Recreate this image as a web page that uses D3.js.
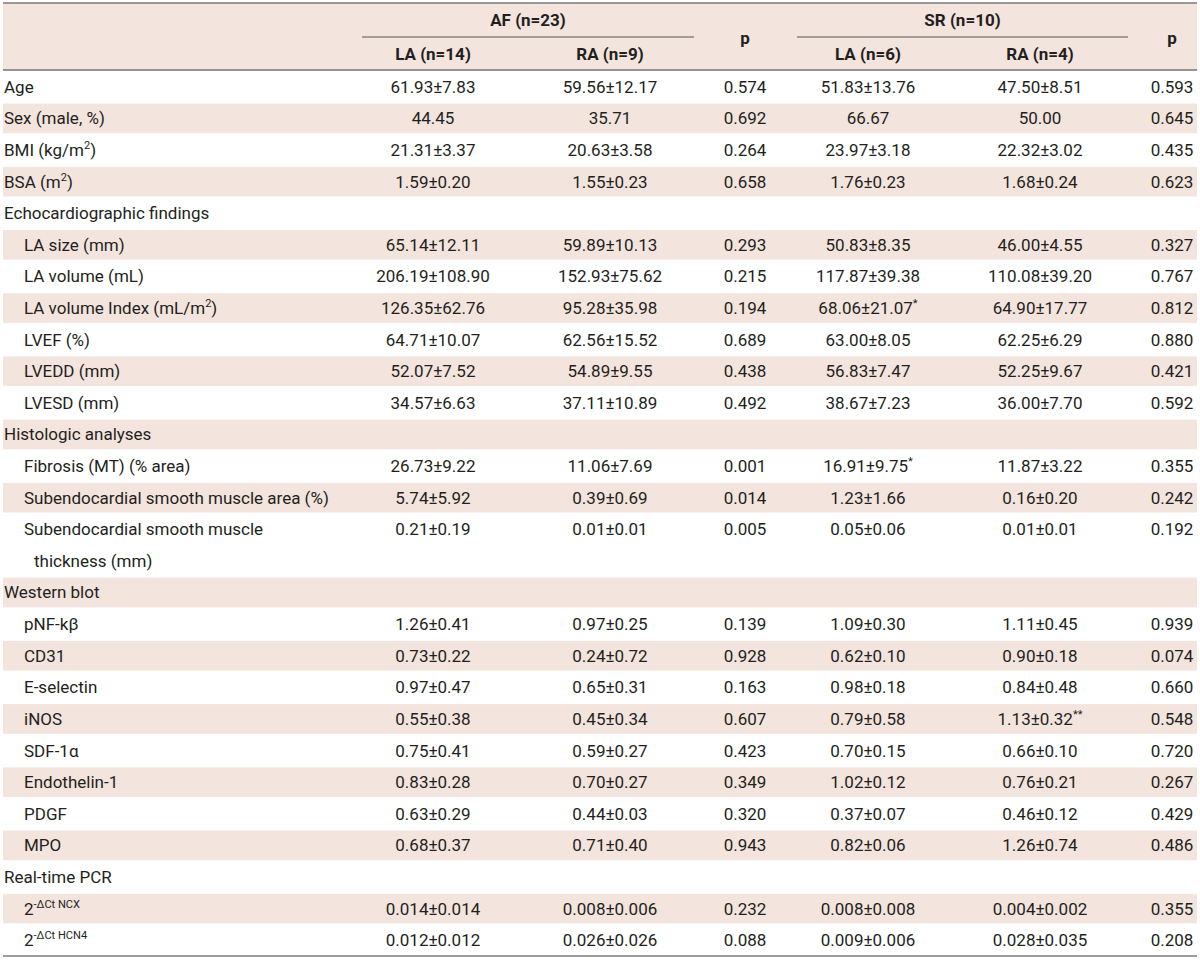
<!DOCTYPE html>
<html>
<head>
<meta charset="utf-8">
<script src="https://cdn.jsdelivr.net/npm/d3@7"></script>
<style>
  body { margin: 0; background: #fff; }
  svg text { font-family: "Roboto", "Noto Sans", sans-serif; fill: #231f20; }
</style>
</head>
<body>
<div id="table"></div>
<script>
// table content, <x> marks a superscript
var rowLabels = ["Age", "Sex (male, %)", "BMI (kg/m<2>)", "BSA (m<2>)", "Echocardiographic findings",
  "LA size (mm)", "LA volume (mL)", "LA volume Index (mL/m<2>)", "LVEF (%)", "LVEDD (mm)", "LVESD (mm)",
  "Histologic analyses", "Fibrosis (MT) (% area)", "Subendocardial smooth muscle area (%)",
  "Subendocardial smooth muscle|thickness (mm)", "Western blot", "pNF-kβ", "CD31", "E-selectin", "iNOS",
  "SDF-1α", "Endothelin-1", "PDGF", "MPO", "Real-time PCR", "2<-ΔCt NCX>", "2<-ΔCt HCN4>"];
var rowIndent = [0,0,0,0,0, 1,1,1,1,1,1, 0,1,1,1, 0,1,1,1,1,1,1,1,1, 0,1,1];
var rowSpan = [1,1,1,1,1, 1,1,1,1,1,1, 1,1,1,2, 1,1,1,1,1,1,1,1,1, 1,1,1];

var afLA = ["61.93±7.83", "44.45", "21.31±3.37", "1.59±0.20", "", "65.14±12.11", "206.19±108.90", "126.35±62.76",
  "64.71±10.07", "52.07±7.52", "34.57±6.63", "", "26.73±9.22", "5.74±5.92", "0.21±0.19", "", "1.26±0.41",
  "0.73±0.22", "0.97±0.47", "0.55±0.38", "0.75±0.41", "0.83±0.28", "0.63±0.29", "0.68±0.37", "",
  "0.014±0.014", "0.012±0.012"];
var afRA = ["59.56±12.17", "35.71", "20.63±3.58", "1.55±0.23", "", "59.89±10.13", "152.93±75.62", "95.28±35.98",
  "62.56±15.52", "54.89±9.55", "37.11±10.89", "", "11.06±7.69", "0.39±0.69", "0.01±0.01", "", "0.97±0.25",
  "0.24±0.72", "0.65±0.31", "0.45±0.34", "0.59±0.27", "0.70±0.27", "0.44±0.03", "0.71±0.40", "",
  "0.008±0.006", "0.026±0.026"];
var afP = ["0.574", "0.692", "0.264", "0.658", "", "0.293", "0.215", "0.194", "0.689", "0.438", "0.492", "",
  "0.001", "0.014", "0.005", "", "0.139", "0.928", "0.163", "0.607", "0.423", "0.349", "0.320", "0.943", "",
  "0.232", "0.088"];
var srLA = ["51.83±13.76", "66.67", "23.97±3.18", "1.76±0.23", "", "50.83±8.35", "117.87±39.38", "68.06±21.07<*>",
  "63.00±8.05", "56.83±7.47", "38.67±7.23", "", "16.91±9.75<*>", "1.23±1.66", "0.05±0.06", "", "1.09±0.30",
  "0.62±0.10", "0.98±0.18", "0.79±0.58", "0.70±0.15", "1.02±0.12", "0.37±0.07", "0.82±0.06", "",
  "0.008±0.008", "0.009±0.006"];
var srRA = ["47.50±8.51", "50.00", "22.32±3.02", "1.68±0.24", "", "46.00±4.55", "110.08±39.20", "64.90±17.77",
  "62.25±6.29", "52.25±9.67", "36.00±7.70", "", "11.87±3.22", "0.16±0.20", "0.01±0.01", "", "1.11±0.45",
  "0.90±0.18", "0.84±0.48", "1.13±0.32<**>", "0.66±0.10", "0.76±0.21", "0.46±0.12", "1.26±0.74", "",
  "0.004±0.002", "0.028±0.035"];
var srP = ["0.593", "0.645", "0.435", "0.623", "", "0.327", "0.767", "0.812", "0.880", "0.421", "0.592", "",
  "0.355", "0.242", "0.192", "", "0.939", "0.074", "0.660", "0.548", "0.720", "0.267", "0.429", "0.486", "",
  "0.355", "0.208"];

var groups = ["AF (n=23)", "SR (n=10)"];
var subHeads = ["LA (n=14)", "RA (n=9)", "p", "LA (n=6)", "RA (n=4)", "p"];
var valueCols = ["afLA", "afRA", "afP", "srLA", "srRA", "srP"];
var columns = [afLA, afRA, afP, srLA, srRA, srP];

var svgWidth = 1200;
var svgHeight = 962;

var svg = d3.select("#table")
  .append("svg")
  .attr("width", svgWidth)
  .attr("height", svgHeight);

var shade = "#f3e4de";
var left = 3, right = 1197;
var headTop = 3, headBottom = 71, tableBottom = 956;

// column centres
var xCol = d3.scaleOrdinal()
  .domain(valueCols)
  .range([433, 610, 745, 868, 1040, 1172]);

// rows stack by units
var starts = [];
var acc = 0;
rowSpan.forEach(function(s) { starts.push(acc); acc += s; });
var yRow = d3.scaleLinear()
  .domain([0, acc])
  .range([headBottom, tableBottom]);
var unit = yRow(1) - yRow(0);

// write a string with <...> superscripts into a text node
function richText(sel, str, size) {
  var parts = str.split(/(<[^>]*>)/).filter(function(p) { return p.length; });
  var shift = 0;
  parts.forEach(function(p) {
    if (p[0] === "<") {
      sel.append("tspan")
        .attr("dy", -size * 0.4)
        .style("font-size", (size * 0.65) + "px")
        .text(p.slice(1, -1));
      shift = size * 0.4;
    } else {
      sel.append("tspan").attr("dy", shift || null).text(p);
      shift = 0;
    }
  });
}

// header band
svg.append("rect")
  .attr("x", left).attr("y", headTop)
  .attr("width", right - left).attr("height", headBottom - headTop)
  .attr("fill", shade);

// row bands (every other row)
var bandRows = d3.range(rowLabels.length).filter(function(i) { return i % 2 === 1; });
svg.selectAll(".band")
  .data(bandRows)
  .enter()
  .append("rect")
  .attr("class", "band")
  .attr("x", left)
  .attr("y", function(i) { return yRow(starts[i]) + 1; })
  .attr("width", right - left)
  .attr("height", function(i) { return yRow(starts[i] + rowSpan[i]) - yRow(starts[i]) - 2; })
  .attr("fill", shade);

// rules
[headTop, headBottom - 1, tableBottom].forEach(function(y) {
  svg.append("line").attr("x1", left).attr("x2", right).attr("y1", y).attr("y2", y)
    .attr("stroke", "#7a7a7a").attr("stroke-width", 1.5);
});

// group headers
var groupSpan = [[362, 694], [797, 1128]];
groups.forEach(function(g, i) {
  svg.append("text")
    .attr("x", (groupSpan[i][0] + groupSpan[i][1]) / 2)
    .attr("y", 20)
    .attr("dy", "0.35em")
    .attr("text-anchor", "middle")
    .style("font-size", "17px")
    .style("font-weight", "bold")
    .text(g);
  svg.append("line")
    .attr("x1", groupSpan[i][0]).attr("x2", groupSpan[i][1])
    .attr("y1", 37).attr("y2", 37)
    .attr("stroke", "#555").attr("stroke-width", 1);
});

subHeads.forEach(function(h, i) {
  svg.append("text")
    .attr("x", xCol(valueCols[i]))
    .attr("y", h === "p" ? 38 : 54)
    .attr("dy", "0.35em")
    .attr("text-anchor", "middle")
    .style("font-size", "17px")
    .style("font-weight", "bold")
    .text(h);
});

// labels
rowLabels.forEach(function(lab, i) {
  var yc = yRow(starts[i]) + unit / 2;
  lab.split("|").forEach(function(line, k) {
    var t = svg.append("text")
      .attr("x", rowIndent[i] ? (k ? 34 : 24) : 4)
      .attr("y", yc + k * unit)
      .attr("dy", "0.35em")
      .style("font-size", "17px");
    richText(t, line, 17);
  });
});

// values
columns.forEach(function(col, c) {
  col.forEach(function(v, i) {
    if (!v) return;
    var t = svg.append("text")
      .attr("x", xCol(valueCols[c]))
      .attr("y", yRow(starts[i]) + unit / 2)
      .attr("dy", "0.35em")
      .attr("text-anchor", "middle")
      .style("font-size", "17px");
    richText(t, v, 17);
  });
});
</script>
</body>
</html>
